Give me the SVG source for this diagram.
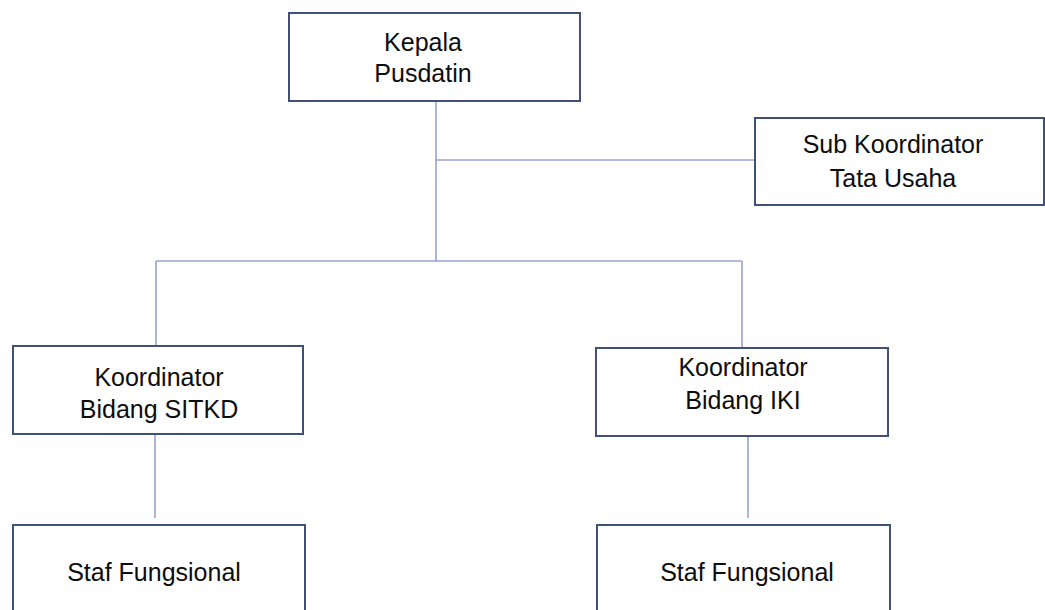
<svg xmlns="http://www.w3.org/2000/svg" width="1045" height="610" viewBox="0 0 1045 610">
<style>
.box{fill:#ffffff;stroke:#3f5079;stroke-width:2}
.t{font-family:"Liberation Sans",Arial,sans-serif;font-size:25px;fill:#0d0d0d;text-anchor:middle}
.c{fill:none;stroke:#9aa3d4;stroke-width:1.6}
</style>
<rect width="1045" height="610" fill="#ffffff"/>
<g id="connectors">
<path class="c" d="M436 101V261"/>
<path class="c" d="M436 160H755"/>
<path class="c" d="M156 261H742"/>
<path class="c" d="M156 261V346"/>
<path class="c" d="M742 261V348"/>
<path class="c" d="M155 434V518"/>
<path class="c" d="M748 436V518"/>
</g>
<g id="kepala">
<rect class="box" x="289" y="13" width="291" height="88"/>
<text class="t" x="423" y="51">Kepala</text>
<text class="t" x="423" y="82">Pusdatin</text>
</g>
<g id="tatausaha">
<rect class="box" x="755" y="118" width="289" height="87"/>
<text class="t" x="893" y="153">Sub Koordinator</text>
<text class="t" x="893" y="187">Tata Usaha</text>
</g>
<g id="sitkd">
<rect class="box" x="13" y="346" width="290" height="88"/>
<text class="t" x="159" y="386">Koordinator</text>
<text class="t" x="159" y="418">Bidang SITKD</text>
</g>
<g id="iki">
<rect class="box" x="596" y="348" width="292" height="88"/>
<text class="t" x="743" y="376">Koordinator</text>
<text class="t" x="743" y="409">Bidang IKI</text>
</g>
<g id="staf1">
<rect class="box" x="13" y="525" width="292" height="100"/>
<text class="t" x="154" y="581">Staf Fungsional</text>
</g>
<g id="staf2">
<rect class="box" x="597" y="525" width="293" height="100"/>
<text class="t" x="747" y="581">Staf Fungsional</text>
</g>
</svg>
